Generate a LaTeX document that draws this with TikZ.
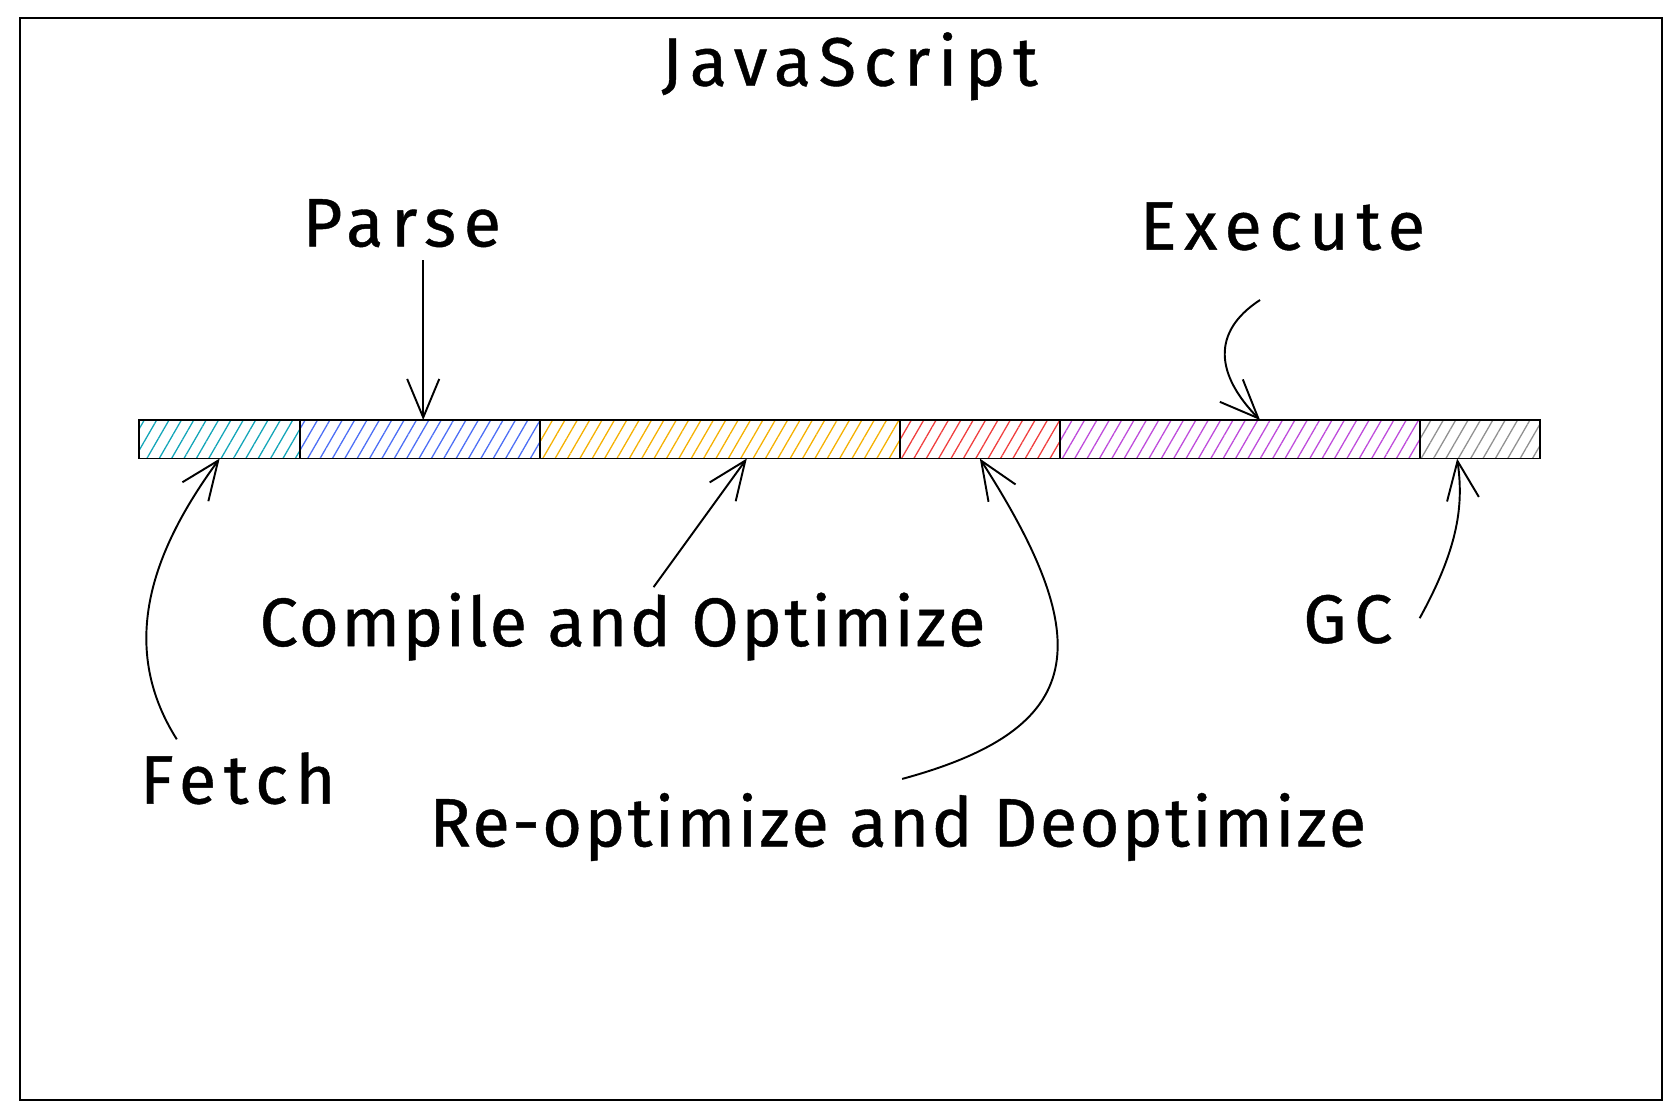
\documentclass[tikz,border=0pt]{standalone}
\usepackage{fontspec}
\setmainfont{Fira Sans}
\newfontfamily\handw[LetterSpace=11,FakeBold=0.6]{Fira Sans}
\newfontfamily\handm[LetterSpace=3.5,FakeBold=0.6]{Fira Sans}
\usetikzlibrary{arrows.meta,patterns.meta,calc}
\definecolor{cteal}{HTML}{12A5B8}
\definecolor{cblue}{HTML}{4C6EF5}
\definecolor{cyellow}{HTML}{F5B000}
\definecolor{cred}{HTML}{F03E3E}
\definecolor{cpurple}{HTML}{BE4BDB}
\definecolor{cgray}{HTML}{909090}
\begin{document}
\begin{tikzpicture}[x=0.5pt,y=-0.5pt,
  lbl/.style={font=\handw\fontsize{32}{38}\selectfont, inner sep=0pt, anchor=base},
  lblm/.style={font=\handm\fontsize{32}{38}\selectfont, inner sep=0pt, anchor=base},
  seg/.style={draw=black, line width=0.8pt, minimum height=18pt, inner sep=0pt, outer sep=0pt, anchor=west,
    pattern={Lines[angle=60,distance=5pt,line width=0.6pt]}},
  conn/.style={line width=0.9pt, -{Straight Barb[length=18pt,width=15pt,line width=0.9pt]}},
]
\useasboundingbox (0,0) rectangle (1568,1045.33);
\node[draw=black, line width=1pt, minimum width=766pt, minimum height=505pt, inner sep=0pt, anchor=north west] (frame) at (18,16) {};

\node[lbl] (title) at (793,80) {JavaScript};
\node[lbl] (parse) at (375,230) {Parse};
\node[lbl] (exec) at (1197,233) {Execute};
\node[lblm] (comp) at (581,603) {Compile and Optimize};
\node[lbl] (gc) at (1258,600) {GC};
\node[lbl] (fetch) at (222,750) {Fetch};
\node[lblm] (reopt) at (838,790) {Re-optimize and Deoptimize};

\node[seg, minimum width=75pt, pattern color=cteal] (s1) at (130,410) {};
\node[seg, minimum width=112pt, pattern color=cblue] (s2) at (s1.east) {};
\node[seg, minimum width=168pt, pattern color=cyellow] (s3) at (s2.east) {};
\node[seg, minimum width=74.5pt, pattern color=cred] (s4) at (s3.east) {};
\node[seg, minimum width=168pt, pattern color=cpurple] (s5) at (s4.east) {};
\node[seg, minimum width=56pt, pattern color=cgray] (s6) at (s5.east) {};

\draw[conn] ($(parse.base)+(20,13)$) -- ($(s2.north)+(3,0)$);
\draw[conn] ($(exec.base)+(-21,47)$) .. controls ($(exec.base)+(-67,77)$) and ($(exec.base)+(-62,117)$) .. ($(s5.north)+(19,0)$);
\draw[conn] ($(fetch.base)+(-57,-60)$) .. controls (108,600) and (145,510) .. (s1.south);
\draw[conn] ($(comp.base)+(29,-55)$) -- ($(s3.south)+(25,0)$);
\draw[conn] ($(reopt.base)+(4,-63)$) .. controls (1015,680) and (1025,600) .. (s4.south);
\draw[conn] ($(gc.base)+(67,-23)$) .. controls (1362,510) and (1366,470) .. ($(s6.south)+(-21,0)$);
\end{tikzpicture}
\end{document}
